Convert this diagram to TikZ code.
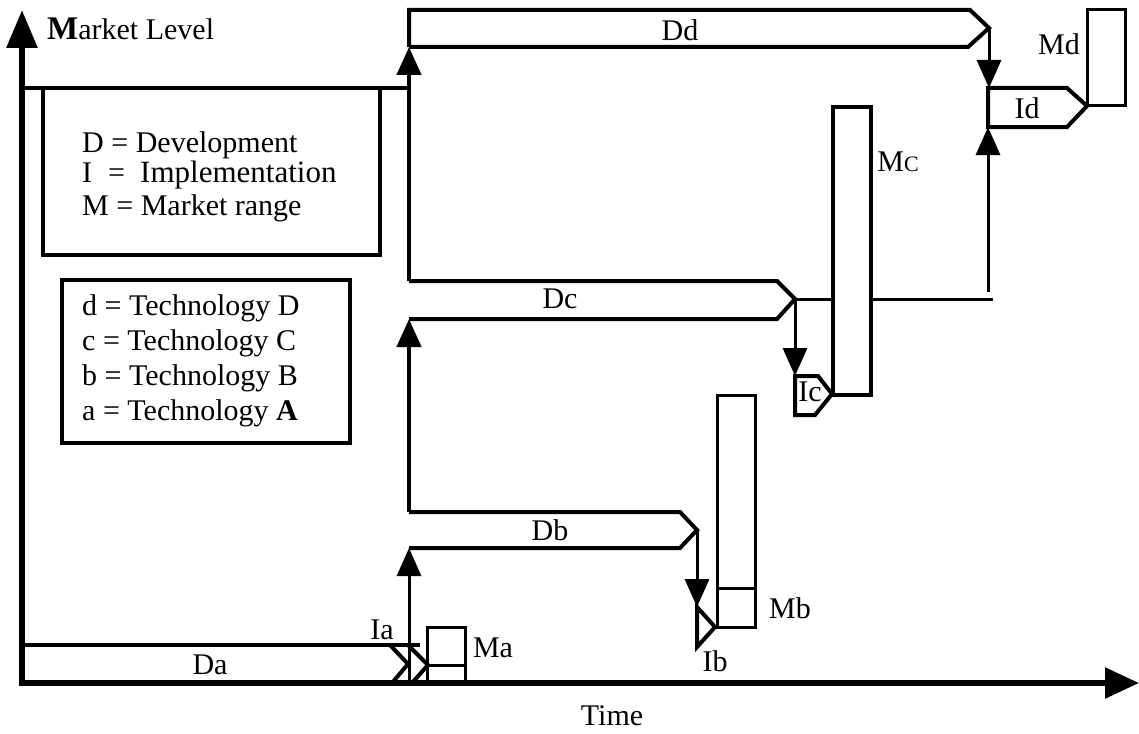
\documentclass[tikz,border=0pt]{standalone}
\usepackage{fontspec}
\setmainfont{Liberation Serif}
\usetikzlibrary{arrows.meta}
\begin{document}
\begin{tikzpicture}[x=1pt,y=-1pt,line join=miter,
  axisline/.style={line width=6pt},
  boxline/.style={line width=4pt},
  thinline/.style={line width=3pt},
  uptip/.style={-{Triangle[length=28pt,width=24pt]}},
  lbl/.style={font=\fontsize{30}{30}\selectfont,inner sep=0pt},
  leg/.style={font=\fontsize{30}{30}\selectfont,inner sep=0pt,anchor=base west}]
\useasboundingbox (0,0) rectangle (1139,733);

% coordinates
\coordinate (O) at (22,683);
\coordinate (Ytop) at (22,10);
\coordinate (Xend) at (1139,683);
\coordinate (V0) at (409,683);
\coordinate (DbL) at (409,548);
\coordinate (DbT) at (409,512);
\coordinate (DcL) at (409,319);
\coordinate (DcT) at (409,281);
\coordinate (DdL) at (409,47);
\coordinate (DbTip) at (697,530);
\coordinate (IbTop) at (697,607);
\coordinate (DcTip) at (795,299);
\coordinate (IcTop) at (795,376);
\coordinate (McL) at (833,299);
\coordinate (McR) at (871,299);
\coordinate (Hend) at (993,299);
\coordinate (IdFoot) at (988,292);
\coordinate (IdBot) at (988,127);
\coordinate (DdTip) at (989,28);
\coordinate (IdTop) at (989,88);

% axes
\draw[axisline,-{Triangle[length=38pt,width=30pt]}] (22,686) -- (Ytop);
\draw[line width=5.5pt,-{Triangle[length=34pt,width=30pt]}] (19,683) -- (Xend);

% legend frames
\draw[boxline] (O) -- (22,88) -- (409,88);
\draw[boxline] (43,88) -- (43,255) -- (380,255) -- (380,88);
\draw[boxline] (62,280) rectangle (350,443);

% main vertical with arrows
\draw[thinline,uptip] (V0) -- (DbL);
\draw[line width=4.5pt,uptip] (DbT) -- (DcL);
\draw[line width=4.5pt,uptip] (DcT) -- (DdL);

% Da / Ia / Ma
\draw[boxline] (22,645) -- (420,645);
\draw[boxline] (390,645) -- (408,664) -- (392,683);
\draw[boxline] (408,645) -- (428,665) -- (412,683);
\draw[thinline] (427,683) -- (427,627) -- (465,627) -- (465,683);
\draw[thinline] (427,665) -- (465,665);

% Db / Ib / Mb
\draw[boxline] (DbT) -- (680,512) -- (DbTip) -- (680,548) -- (DbL);
\draw[thinline,uptip] (DbTip) -- (IbTop);
\draw[boxline] (IbTop) -- (715,627) -- (697,647) -- cycle;
\draw[thinline] (717,395) rectangle (755,627);
\draw[thinline] (717,588) -- (755,588);

% Dc / Ic / Mc
\draw[boxline] (DcT) -- (777,281) -- (DcTip) -- (777,319) -- (DcL);
\draw[thinline] (DcTip) -- (McL);
\draw[thinline,uptip] (DcTip) -- (IcTop);
\draw[boxline] (IcTop) -- (818,376) -- (832,394) -- (815,415) -- (795,415) -- cycle;
\draw[boxline] (833,107) rectangle (871,395);
\draw[thinline] (McR) -- (Hend);
\draw[thinline,uptip] (IdFoot) -- (IdBot);

% Dd / Id / Md
\draw[boxline] (DdL) -- (409,10) -- (970,10) -- (DdTip) -- (968,47) -- (DdL);
\draw[thinline,uptip] (DdTip) -- (IdTop);
\draw[boxline] (988,88) -- (1067,88) -- (1087,106) -- (1067,127) -- (988,127) -- cycle;
\draw[thinline] (1087,106) -- (1087,10) -- (1125,10) -- (1125,106) -- cycle;

% labels
\node[leg] (ml) at (47,40) {{\fontsize{33}{33}\selectfont\bfseries M}arket Level};
\node[lbl] (tdd) at (680,30) {Dd};
\node[lbl] (tdc) at (560,299) {Dc};
\node[lbl] (tdb) at (550,530) {Db};
\node[lbl] (tda) at (210,665) {Da};
\node[lbl] (tia) at (382,630) {Ia};
\node[lbl] (tma) at (493,648) {Ma};
\node[lbl] (tib) at (715,661) {Ib};
\node[lbl] (tmb) at (790,608) {Mb};
\node[lbl] (tic) at (810,392) {Ic};
\node[lbl] (tmc) at (898,162) {M{\fontsize{22}{22}\selectfont C}};
\node[lbl] (tid) at (1027,108) {Id};
\node[lbl] (tmd) at (1059,44) {Md};
\node[lbl] (time) at (612,716) {Time};

\node[leg] (l1) at (82,152) {D = Development};
\node[leg] (l2) at (82,182) {I};
\node[leg] (l2b) at (108,182) {=};
\node[leg,font=\fontsize{31}{31}\selectfont] (l2c) at (140,182) {Implementation};
\node[leg] (l3) at (82,215) {M = Market range};

\node[leg] (t1) at (82,315) {d = Technology D};
\node[leg] (t2) at (82,350) {c = Technology C};
\node[leg] (t3) at (82,385) {b = Technology B};
\node[leg] (t4) at (82,420) {a = Technology \textbf{A}};
\end{tikzpicture}
\end{document}
